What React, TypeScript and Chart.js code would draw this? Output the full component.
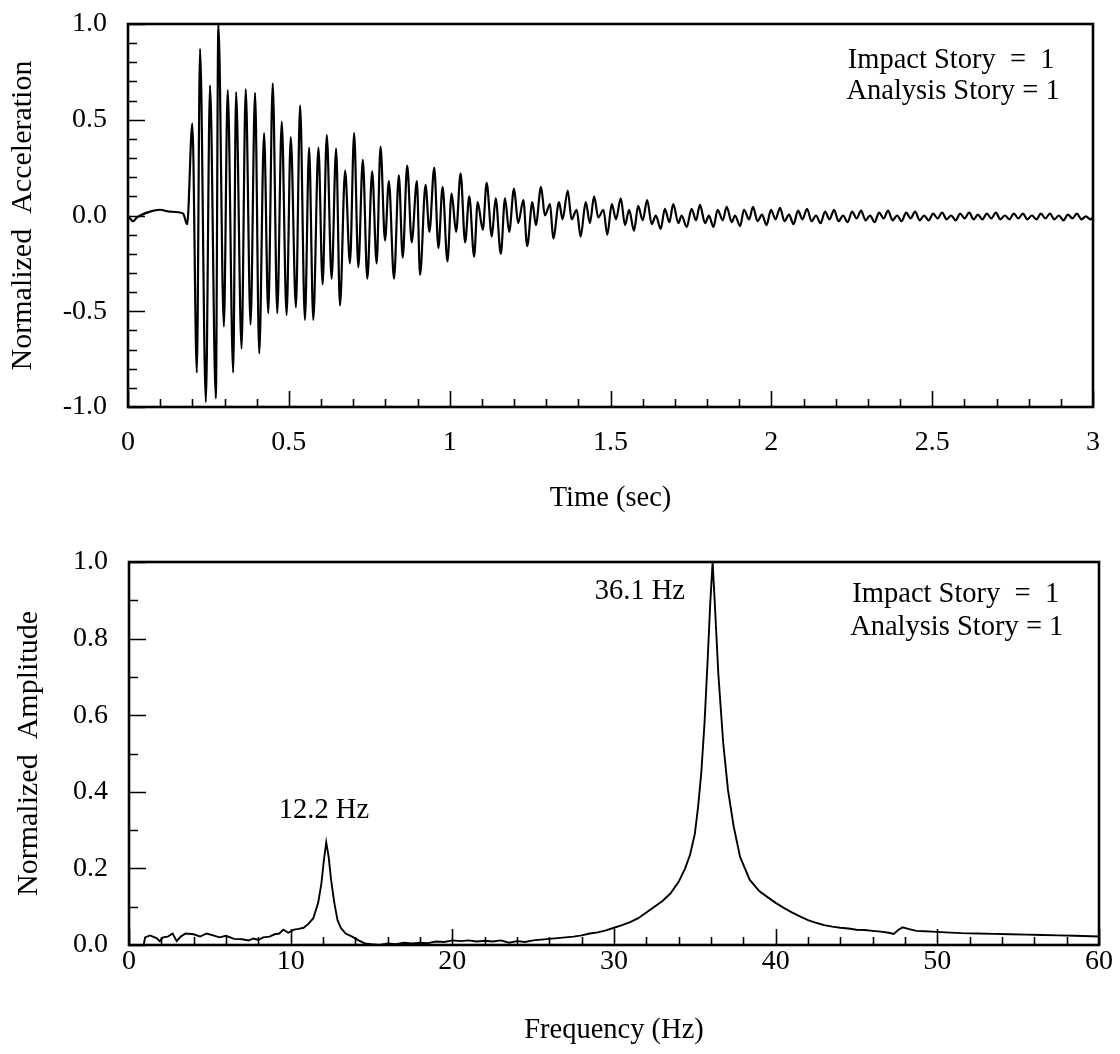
import React, { useEffect, useRef } from "react";
import { Chart, registerables } from "chart.js";

Chart.register(...registerables);

// ---------- Top panel: normalized acceleration vs time ----------
const accTime = [
  0.000, 0.016, 0.028, 0.068, 0.099, 0.131, 0.171, 0.184,
  0.200, 0.214, 0.224, 0.242, 0.255, 0.273, 0.281, 0.298,
  0.310, 0.327, 0.336, 0.353, 0.366, 0.381, 0.395, 0.408,
  0.423, 0.436, 0.450, 0.464, 0.478, 0.493, 0.506, 0.522,
  0.535, 0.550, 0.563, 0.576, 0.592, 0.605, 0.618, 0.633,
  0.647, 0.659, 0.675, 0.690, 0.703, 0.716, 0.730, 0.744,
  0.759, 0.773, 0.785, 0.799, 0.811, 0.827, 0.842, 0.854,
  0.868, 0.882, 0.898, 0.908, 0.925, 0.937, 0.952, 0.965,
  0.978, 0.993, 1.006, 1.020, 1.034, 1.048, 1.061, 1.076,
  1.087, 1.103, 1.115, 1.131, 1.143, 1.159, 1.172, 1.185,
  1.200, 1.213, 1.229, 1.241, 1.257, 1.268, 1.284, 1.296,
  1.312, 1.322, 1.340, 1.351, 1.367, 1.379, 1.395, 1.407,
  1.423, 1.436, 1.449, 1.462, 1.478, 1.490, 1.504, 1.517,
  1.532, 1.545, 1.558, 1.573, 1.586, 1.600, 1.614, 1.628,
  1.641, 1.656, 1.669, 1.683, 1.695, 1.711, 1.721, 1.737,
  1.752, 1.766, 1.778, 1.794, 1.806, 1.820, 1.833, 1.849,
  1.861, 1.877, 1.887, 1.903, 1.915, 1.931, 1.943, 1.957,
  1.971, 1.985, 1.999, 2.013, 2.027, 2.041, 2.055, 2.069,
  2.083, 2.097, 2.111, 2.125, 2.139, 2.153, 2.167, 2.181,
  2.195, 2.209, 2.223, 2.237, 2.251, 2.265, 2.279, 2.293,
  2.307, 2.321, 2.335, 2.349, 2.363, 2.377, 2.391, 2.405,
  2.419, 2.433, 2.447, 2.461, 2.475, 2.489, 2.503, 2.517,
  2.531, 2.545, 2.559, 2.573, 2.587, 2.601, 2.615, 2.629,
  2.642, 2.656, 2.670, 2.684, 2.698, 2.712, 2.726, 2.740,
  2.754, 2.768, 2.782, 2.796, 2.810, 2.824, 2.838, 2.852,
  2.866, 2.880, 2.894, 2.908, 2.922, 2.936, 2.950, 2.964,
  2.978, 2.992, 3.000,
];

const accValue = [
  0.00, -0.03, -0.01, 0.02, 0.03, 0.02, 0.01, -0.045,
  0.48, -0.82, 0.87, -0.975, 0.68, -0.955, 1.00, -0.58,
  0.655, -0.82, 0.645, -0.695, 0.66, -0.57, 0.64, -0.72,
  0.43, -0.51, 0.69, -0.51, 0.49, -0.52, 0.41, -0.48,
  0.575, -0.545, 0.355, -0.545, 0.355, -0.36, 0.42, -0.33,
  0.35, -0.47, 0.235, -0.25, 0.43, -0.27, 0.29, -0.33,
  0.23, -0.25, 0.36, -0.13, 0.18, -0.33, 0.21, -0.22,
  0.26, -0.14, 0.18, -0.31, 0.16, -0.085, 0.25, -0.17,
  0.15, -0.24, 0.115, -0.085, 0.22, -0.14, 0.10, -0.215,
  0.07, -0.075, 0.17, -0.11, 0.09, -0.20, 0.09, -0.085,
  0.14, -0.04, 0.08, -0.16, 0.07, -0.05, 0.15, 0.00,
  0.06, -0.12, 0.07, -0.02, 0.13, -0.02, 0.03, -0.11,
  0.07, -0.04, 0.10, -0.01, 0.03, -0.10, 0.06, -0.02,
  0.09, -0.05, 0.03, -0.08, 0.05, -0.025, 0.08, -0.045,
  0.00, -0.07, 0.035, -0.035, 0.06, -0.04, 0.00, -0.06,
  0.035, -0.025, 0.055, -0.04, 0.00, -0.06, 0.03, -0.025,
  0.045, -0.035, 0.00, -0.055, 0.03, -0.02, 0.045, -0.03,
  0.005, -0.05, 0.03, -0.02, 0.04, -0.03, 0.005, -0.045,
  0.025, -0.02, 0.035, -0.03, 0.00, -0.04, 0.02, -0.02,
  0.03, -0.03, 0.00, -0.035, 0.02, -0.015, 0.025, -0.025,
  0.00, -0.035, 0.015, -0.015, 0.025, -0.025, 0.00, -0.03,
  0.015, -0.015, 0.02, -0.025, 0.00, -0.025, 0.01, -0.015,
  0.015, -0.02, 0.00, -0.025, 0.01, -0.015, 0.015, -0.02,
  0.005, -0.02, 0.01, -0.015, 0.015, -0.02, 0.00, -0.02,
  0.01, -0.015, 0.01, -0.02, 0.00, -0.02, 0.01, -0.015,
  0.01, -0.02, 0.00, -0.025, 0.005, -0.015, 0.01, -0.02,
  -0.005, -0.02, -0.01,
];

const timeTicks = [0, 0.5, 1, 1.5, 2, 2.5, 3];
const timeLabels = ["0", "0.5", "1", "1.5", "2", "2.5", "3"];
const timeMinor = [
  0.1, 0.2, 0.3, 0.4, 0.6, 0.7, 0.8, 0.9, 1.1, 1.2, 1.3, 1.4,
  1.6, 1.7, 1.8, 1.9, 2.1, 2.2, 2.3, 2.4, 2.6, 2.7, 2.8, 2.9,
];
const accTicks = [-1, -0.5, 0, 0.5, 1];
const accLabels = ["-1.0", "-0.5", "0.0", "0.5", "1.0"];
const accMinor = [
  -0.9, -0.8, -0.7, -0.6, -0.4, -0.3, -0.2, -0.1,
  0.1, 0.2, 0.3, 0.4, 0.6, 0.7, 0.8, 0.9,
];

// ---------- Bottom panel: normalized amplitude vs frequency ----------
const freqHz = [
  0.9, 1.0, 1.3, 1.7, 1.9, 2.1, 2.4, 2.7, 2.95, 3.2, 3.5, 4.0,
  4.4, 4.8, 5.2, 5.6, 6.0, 6.5, 7.0, 7.4, 7.7, 8.0, 8.3, 8.7,
  9.0, 9.3, 9.55, 9.85, 10.2, 10.5, 10.8, 11.1, 11.4, 11.7, 11.9, 12.05,
  12.2, 12.35, 12.5, 12.7, 12.9, 13.1, 13.4, 13.8, 14.2, 14.6, 15.0, 15.5,
  16.0, 16.5, 17.0, 17.5, 18.0, 18.5, 19.0, 19.5, 20.0, 20.5, 21.0, 21.5,
  22.0, 22.5, 23.0, 23.5, 24.0, 24.5, 25.0, 25.5, 26.0, 26.5, 27.0, 27.5,
  28.0, 28.5, 29.0, 29.5, 30.0, 30.5, 31.0, 31.5, 32.0, 32.5, 33.0, 33.5,
  34.0, 34.4, 34.7, 35.0, 35.2, 35.4, 35.6, 35.8, 35.95, 36.1, 36.25, 36.45,
  36.75, 37.05, 37.4, 37.8, 38.4, 39.0, 39.5, 40.0, 40.5, 41.0, 41.5, 42.0,
  42.5, 43.0, 43.5, 44.0, 44.5, 45.0, 45.5, 46.0, 46.5, 47.0, 47.3, 47.6,
  47.85, 48.2, 48.7, 49.2, 49.7, 50.5, 51.5, 52.5, 53.5, 54.5, 55.5, 56.5,
  57.5, 58.5, 59.5, 60.0,
];

const ampValue = [
  0.0, 0.02, 0.025, 0.018, 0.01, 0.02, 0.022, 0.03, 0.01, 0.022, 0.03, 0.028,
  0.022, 0.03, 0.025, 0.02, 0.024, 0.016, 0.015, 0.012, 0.017, 0.013, 0.02, 0.022,
  0.028, 0.03, 0.04, 0.032, 0.04, 0.042, 0.045, 0.055, 0.07, 0.11, 0.16, 0.22,
  0.268, 0.23, 0.17, 0.11, 0.065, 0.045, 0.03, 0.022, 0.012, 0.004, 0.002, 0.0,
  0.004, 0.002, 0.006, 0.004, 0.006, 0.005, 0.009, 0.008, 0.012, 0.01, 0.012, 0.009,
  0.011, 0.009, 0.012, 0.006, 0.01, 0.008, 0.012, 0.014, 0.016, 0.018, 0.02, 0.022,
  0.025, 0.03, 0.033, 0.038, 0.045, 0.052, 0.06, 0.07, 0.085, 0.1, 0.115, 0.135,
  0.165, 0.2, 0.235, 0.29, 0.36, 0.45, 0.58, 0.75, 0.89, 1.0, 0.88, 0.71,
  0.53, 0.405, 0.31, 0.23, 0.17, 0.14, 0.125, 0.11, 0.097, 0.085, 0.075, 0.065,
  0.058, 0.052, 0.048, 0.045, 0.043, 0.04, 0.039, 0.037, 0.035, 0.032, 0.029, 0.04,
  0.046, 0.042, 0.037, 0.036, 0.035, 0.033, 0.031, 0.03, 0.029, 0.028, 0.027, 0.026,
  0.025, 0.024, 0.023, 0.022,
];

const freqTicks = [0, 10, 20, 30, 40, 50, 60];
const freqLabels = ["0", "10", "20", "30", "40", "50", "60"];
const freqMinor = [
  2, 4, 6, 8, 12, 14, 16, 18, 22, 24, 26, 28, 32, 34, 36, 38,
  42, 44, 46, 48, 52, 54, 56, 58,
];
const ampTicks = [0, 0.2, 0.4, 0.6, 0.8, 1.0];
const ampLabels = ["0.0", "0.2", "0.4", "0.6", "0.8", "1.0"];
const ampMinor = [0.1, 0.3, 0.5, 0.7, 0.9];

const FONT = "'Liberation Serif', 'Times New Roman', serif";

type Note = { text: string; x: number; y: number };

function framePlugin(xMinor: number[], yMinor: number[], xMajor: number[], yMajor: number[], notes: Note[]) {
  return {
    id: "frameTicks",
    afterDraw(chart: any) {
      const { ctx, chartArea } = chart;
      const { left, right, top, bottom } = chartArea;
      const xs = chart.scales.x;
      const ys = chart.scales.y;
      ctx.save();
      ctx.strokeStyle = "#000";
      ctx.lineCap = "butt";
      ctx.lineWidth = 1.6;
      ctx.beginPath();
      for (const v of xMajor) {
        const px = Math.round(xs.getPixelForValue(v)) + 0.5;
        ctx.moveTo(px, bottom);
        ctx.lineTo(px, bottom - 16);
      }
      for (const v of xMinor) {
        const px = Math.round(xs.getPixelForValue(v)) + 0.5;
        ctx.moveTo(px, bottom);
        ctx.lineTo(px, bottom - 8);
      }
      for (const v of yMajor) {
        const py = Math.round(ys.getPixelForValue(v)) + 0.5;
        ctx.moveTo(left, py);
        ctx.lineTo(left + 17, py);
      }
      for (const v of yMinor) {
        const py = Math.round(ys.getPixelForValue(v)) + 0.5;
        ctx.moveTo(left, py);
        ctx.lineTo(left + 9, py);
      }
      ctx.stroke();
      ctx.lineWidth = 2.6;
      ctx.strokeRect(left, top, right - left, bottom - top);
      ctx.fillStyle = "#000";
      ctx.font = `28.5px ${FONT}`;
      ctx.textAlign = "center";
      ctx.textBaseline = "middle";
      for (const n of notes) {
        ctx.fillText(n.text, xs.getPixelForValue(n.x), ys.getPixelForValue(n.y));
      }
      ctx.restore();
    },
  };
}

function makeConfig(opts: {
  xs: number[]; ys: number[];
  xMin: number; xMax: number; yMin: number; yMax: number;
  xTicks: number[]; xLabels: string[]; yTicks: number[]; yLabels: string[];
  xMinor: number[]; yMinor: number[];
  xTitle: string; yTitle: string;
  pad: { right: number; top: number };
  xHeight: number; yWidth: number;
  xTickPad: number; yTickPad: number;
  xTitlePad: number; yTitlePad: number;
  notes: Note[]; lineWidth: number; smooth: boolean;
}) {
  const titleFont = { family: FONT, size: 28.5 };
  return {
    type: "line" as const,
    data: {
      datasets: [
        {
          data: opts.xs.map((x, i) => ({ x, y: opts.ys[i] })),
          borderColor: "#000",
          borderWidth: opts.lineWidth,
          pointRadius: 0,
          tension: 0,
          cubicInterpolationMode: opts.smooth ? "monotone" : "default",
          fill: false,
        },
      ],
    },
    options: {
      animation: false,
      responsive: false,
      events: [],
      layout: { padding: { left: 0, right: opts.pad.right, top: opts.pad.top, bottom: 0 } },
      plugins: { legend: { display: false }, tooltip: { enabled: false } },
      scales: {
        x: {
          type: "linear",
          min: opts.xMin,
          max: opts.xMax,
          grid: { display: false, drawTicks: false },
          border: { display: false },
          afterBuildTicks: (s: any) => { s.ticks = opts.xTicks.map((v) => ({ value: v })); },
          afterFit: (s: any) => { s.height = opts.xHeight; },
          ticks: {
            padding: opts.xTickPad,
            font: { family: FONT, size: 28 },
            color: "#000",
            maxRotation: 0,
            autoSkip: false,
            callback: (v: number) => opts.xLabels[opts.xTicks.indexOf(v)] ?? String(v),
          },
          title: {
            display: true,
            text: opts.xTitle,
            font: titleFont,
            color: "#000",
            padding: { top: 0, bottom: opts.xTitlePad },
          },
        },
        y: {
          type: "linear",
          min: opts.yMin,
          max: opts.yMax,
          grid: { display: false, drawTicks: false },
          border: { display: false },
          afterBuildTicks: (s: any) => { s.ticks = opts.yTicks.map((v) => ({ value: v })); },
          afterFit: (s: any) => { s.width = opts.yWidth; },
          ticks: {
            padding: opts.yTickPad,
            font: { family: FONT, size: 28, lineHeight: 0.2 },
            color: "#000",
            autoSkip: false,
            callback: (v: number) => opts.yLabels[opts.yTicks.indexOf(v)] ?? String(v),
          },
          title: {
            display: true,
            text: opts.yTitle,
            font: { family: FONT, size: 30 },
            color: "#000",
            padding: { top: opts.yTitlePad, bottom: 0 },
          },
        },
      },
    },
    plugins: [framePlugin(opts.xMinor, opts.yMinor, opts.xTicks, opts.yTicks, opts.notes)],
  };
}

export default function App() {
  const topRef = useRef<HTMLCanvasElement>(null);
  const botRef = useRef<HTMLCanvasElement>(null);

  useEffect(() => {
    const c1 = new Chart(
      topRef.current as HTMLCanvasElement,
      makeConfig({
        xs: accTime, ys: accValue,
        xMin: 0, xMax: 3, yMin: -1, yMax: 1,
        xTicks: timeTicks, xLabels: timeLabels, yTicks: accTicks, yLabels: accLabels,
        xMinor: timeMinor, yMinor: accMinor,
        xTitle: "Time (sec)", yTitle: "Normalized  Acceleration",
        pad: { right: 27, top: 24 },
        xHeight: 120, yWidth: 128,
        xTickPad: 19, yTickPad: 21,
        xTitlePad: 11, yTitlePad: 5,
        notes: [
          { text: "Impact Story  =  1", x: 2.559, y: 0.807 },
          { text: "Analysis Story = 1", x: 2.565, y: 0.645 },
        ],
        lineWidth: 2.2,
        smooth: true,
      }) as any
    );
    const c2 = new Chart(
      botRef.current as HTMLCanvasElement,
      makeConfig({
        xs: freqHz, ys: ampValue,
        xMin: 0, xMax: 60, yMin: 0, yMax: 1,
        xTicks: freqTicks, xLabels: freqLabels, yTicks: ampTicks, yLabels: ampLabels,
        xMinor: freqMinor, yMinor: ampMinor,
        xTitle: "Frequency (Hz)", yTitle: "Normalized  Amplitude",
        pad: { right: 21, top: 35 },
        xHeight: 109, yWidth: 129,
        xTickPad: 0, yTickPad: 21,
        xTitlePad: 6, yTitlePad: 11,
        notes: [
          { text: "12.2 Hz", x: 12.06, y: 0.35 },
          { text: "36.1 Hz", x: 31.6, y: 0.924 },
          { text: "Impact Story  =  1", x: 51.14, y: 0.916 },
          { text: "Analysis Story = 1", x: 51.2, y: 0.829 },
        ],
        lineWidth: 1.9,
        smooth: false,
      }) as any
    );
    return () => {
      c1.destroy();
      c2.destroy();
    };
  }, []);

  return (
    <div style={{ position: "absolute", left: 0, top: 0, width: 1120, height: 1054, background: "#fff" }}>
      <canvas
        ref={topRef}
        width={1120}
        height={527}
        style={{ position: "absolute", left: 0, top: 0, width: 1120, height: 527 }}
      />
      <canvas
        ref={botRef}
        width={1120}
        height={527}
        style={{ position: "absolute", left: 0, top: 527, width: 1120, height: 527 }}
      />
    </div>
  );
}
